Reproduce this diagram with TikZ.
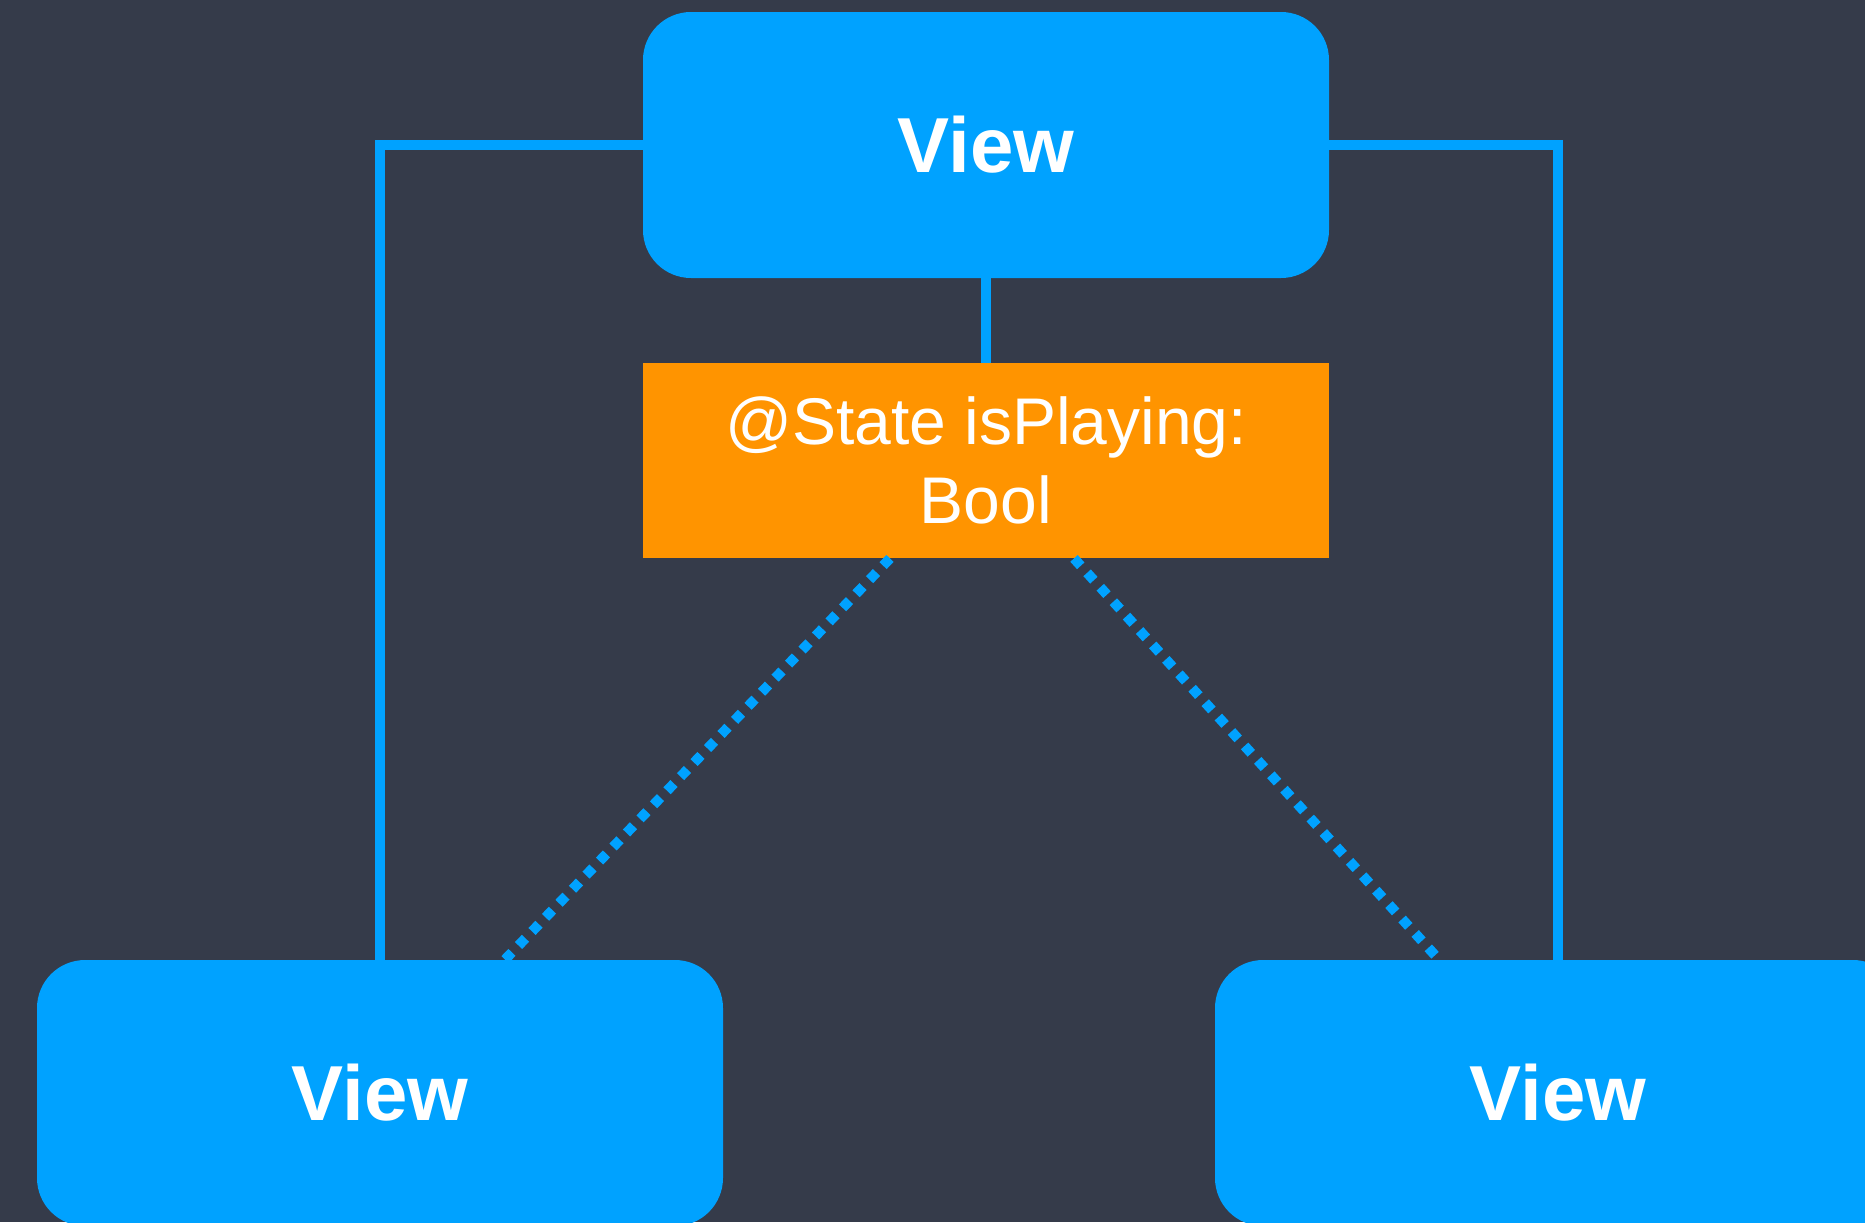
\documentclass[tikz,border=0pt]{standalone}
\usepackage{fontspec}
\setmainfont{Liberation Sans}
\definecolor{bgslate}{RGB}{53,59,74}
\definecolor{viewblue}{RGB}{0,162,255}
\definecolor{stateorange}{RGB}{255,148,0}
\tikzset{
    viewbox/.style = {fill=viewblue, rounded corners=24pt, minimum width=343pt,
        minimum height=133pt, inner sep=0pt, text=white,
        font=\fontsize{39}{47}\selectfont\bfseries},
    statebox/.style = {fill=stateorange, minimum width=343pt, minimum height=97.5pt,
        inner sep=0pt, text=white, align=center,
        font=\fontsize{33}{39.5}\selectfont},
    link/.style = {draw=viewblue, line width=5pt},
    binding/.style = {draw=viewblue, line width=5pt, line cap=butt,
        dash pattern=on 5pt off 4.75pt}
}
\begin{document}
\begin{tikzpicture}[x=0.5pt,y=-0.5pt]
        \fill[bgslate] (0,0) rectangle (1865,1222);
        \useasboundingbox (0,0) rectangle (1865,1222);
        \node[viewbox] (0) at (986,145) {View};
        \node[statebox] (1) at (986,460.5) {@State isPlaying:\\Bool};
        \node[viewbox] (2) at (380,1093) {View};
        \node[viewbox] (3) at (1558,1093) {View};
        \draw[link] (0) -- (1);
        \draw[link] (0.west) -| (2.north);
        \draw[link] (0.east) -| (3.north);
        \draw[binding] ([xshift=-48pt]1.south) -- ([xshift=62.5pt]2.north);
        \draw[binding] ([xshift=44pt]1.south) -- ([xshift=-59.5pt]3.north);
    \end{tikzpicture}
\end{document}
